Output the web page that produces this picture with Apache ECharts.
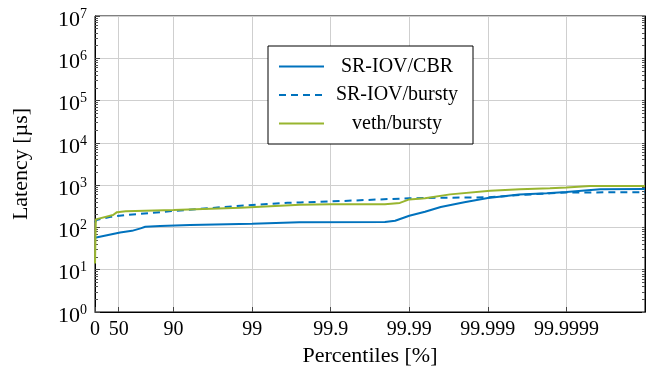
<!DOCTYPE html>
<html>
<head>
<meta charset="utf-8">
<script src="https://cdn.jsdelivr.net/npm/echarts@6/dist/echarts.min.js"></script>
<style>
    html, body { margin: 0; padding: 0; background: #fff; }
    #chart { width: 660px; height: 378px; }
</style>
</head>
<body>
<div id="chart"></div>
<script>
;(function () {
    'use strict';

    // x values are in "nines": -log10(1 - p/100)
    var xTickPercentiles = [0, 50, 90, 99, 99.9, 99.99, 99.999, 99.9999];
    var xTickLabels = ['0', '50', '90', '99', '99.9', '99.99', '99.999', '99.9999'];

    // SR-IOV/CBR
    var cbrNines   = [0, 0.32, 0.47, 0.58, 0.64, 0.83, 1.21, 2.0, 2.6, 3.69, 3.82, 4.0, 4.2, 4.4, 4.7, 5.0, 5.4, 5.75, 6.0, 6.43, 7.0];
    var cbrLatency = [57, 76, 83, 95, 104, 108, 114, 122, 132, 134, 144, 189, 234, 305, 395, 495, 600, 640, 690, 800, 815];

    // SR-IOV/bursty
    var sriovBurstyNines   = [0, 0.02, 0.2, 0.39, 0.7, 1.0, 1.85, 2.45, 2.61, 3.12, 3.63, 4.0, 4.5, 5.0, 5.45, 5.8, 6.0, 6.5, 7.0];
    var sriovBurstyLatency = [130, 150, 178, 196, 219, 245, 326, 383, 390, 420, 460, 490, 505, 515, 590, 640, 670, 675, 680];

    // veth/bursty
    var vethNines   = [0, 0.01, 0.23, 0.28, 0.39, 1.0, 1.85, 2.61, 3.0, 3.69, 3.88, 4.0, 4.2, 4.52, 5.03, 5.41, 5.79, 6.0, 6.3, 7.0];
    var vethLatency = [14, 155, 196, 230, 240, 257, 293, 345, 352, 355, 380, 460, 488, 605, 740, 800, 840, 880, 955, 960];

    var serif = '"Liberation Serif", "DejaVu Serif", serif';
    var blue = '#0072bd';
    var green = '#98b52f';

    function toNines(p) {
        return -Math.log10(1 - p / 100);
    }
    var xTickValues = xTickPercentiles.map(toNines);

    function pairs(xs, ys) {
        var out = [];
        for (var i = 0; i < xs.length; i++) {
            out.push([xs[i], ys[i]]);
        }
        return out;
    }

    // 次刻度 2..9 x 10^n
    var minorY = [];
    for (var e = 0; e < 7; e++) {
        for (var m = 2; m <= 9; m++) {
            minorY.push(m * Math.pow(10, e));
        }
    }
    var majorY = [1, 10, 100, 1000, 10000, 100000, 1000000, 10000000];

    var option = {
        backgroundColor: '#fff',
        animation: false,
        grid: {
            left: 95,
            right: 15,
            top: 16,
            bottom: 66,
            show: true,
            borderColor: '#000',
            borderWidth: 1
        },
        legend: {
            orient: 'vertical',
            left: 268,
            top: 46,
            padding: [10.5, 8, 10.5, 10],
            borderColor: '#000',
            borderWidth: 1,
            backgroundColor: '#fff',
            itemWidth: 45,
            itemHeight: 20,
            itemGap: 8.5,
            itemStyle: { opacity: 0 },
            formatter: function (name) {
                return '{c|' + name + '}';
            },
            textStyle: {
                color: '#000',
                fontFamily: serif,
                fontSize: 20,
                rich: {
                    c: { width: 136, align: 'center', fontFamily: serif, fontSize: 20, lineHeight: 20, color: '#000' }
                }
            },
            data: ['SR-IOV/CBR', 'SR-IOV/bursty', 'veth/bursty']
        },
        xAxis: {
            type: 'value',
            min: 0,
            max: 7,
            name: 'Percentiles [%]',
            nameLocation: 'middle',
            nameGap: 33,
            nameTextStyle: { fontFamily: serif, fontSize: 22, color: '#000' },
            axisLine: { show: true, lineStyle: { color: '#000', width: 1 } },
            axisTick: {
                show: true,
                inside: true,
                length: 5,
                customValues: xTickValues,
                lineStyle: { color: '#444' }
            },
            axisLabel: {
                customValues: xTickValues,
                margin: 8,
                color: '#000',
                fontFamily: serif,
                fontSize: 20,
                formatter: function (value) {
                    for (var i = 0; i < xTickValues.length; i++) {
                        if (Math.abs(xTickValues[i] - value) < 1e-6) return xTickLabels[i];
                    }
                    return '';
                }
            },
            splitLine: { show: true, lineStyle: { color: '#cfcfcf', width: 1 } }
        },
        yAxis: [
            {
                type: 'log',
                logBase: 10,
                min: 1,
                max: 10000000,
                name: 'Latency [µs]',
                nameLocation: 'middle',
                nameRotate: 90,
                nameGap: 63,
                nameTextStyle: { fontFamily: serif, fontSize: 22, color: '#000' },
                axisLine: { show: true, lineStyle: { color: '#000', width: 1 } },
                axisTick: {
                    show: true,
                    inside: true,
                    length: 5,
                    customValues: majorY,
                    lineStyle: { color: '#444' }
                },
                axisLabel: {
                    customValues: majorY,
                    margin: 8,
                    color: '#000',
                    formatter: function (value) {
                        var exp = Math.round(Math.log10(value));
                        return '{b|10}{s|' + exp + '}';
                    },
                    rich: {
                        b: { fontFamily: serif, fontSize: 22, lineHeight: 30, verticalAlign: 'bottom', color: '#000' },
                        s: { fontFamily: serif, fontSize: 14, padding: [6, 0, 0, 0], verticalAlign: 'top', color: '#000' }
                    }
                },
                splitLine: { show: true, lineStyle: { color: '#cfcfcf', width: 1 } }
            },
            {
                // 左侧次刻度
                type: 'log',
                logBase: 10,
                min: 1,
                max: 10000000,
                position: 'left',
                axisLine: { show: false },
                axisLabel: { show: false },
                splitLine: { show: false },
                axisTick: {
                    show: true,
                    inside: true,
                    length: 3,
                    customValues: minorY,
                    lineStyle: { color: '#555' }
                }
            },
            {
                // 右侧刻度
                type: 'log',
                logBase: 10,
                min: 1,
                max: 10000000,
                position: 'right',
                axisLine: { show: true, lineStyle: { color: '#000', width: 1 } },
                axisLabel: { show: false },
                splitLine: { show: false },
                axisTick: {
                    show: true,
                    inside: true,
                    length: 3,
                    customValues: minorY.concat(majorY),
                    lineStyle: { color: '#555' }
                }
            }
        ],
        series: [
            {
                name: 'SR-IOV/CBR',
                type: 'line',
                yAxisIndex: 0,
                symbol: 'none',
                lineStyle: { color: blue, width: 2 },
                itemStyle: { color: blue },
                data: pairs(cbrNines, cbrLatency)
            },
            {
                name: 'SR-IOV/bursty',
                type: 'line',
                yAxisIndex: 0,
                symbol: 'none',
                lineStyle: { color: blue, width: 2, type: [7, 5] },
                itemStyle: { color: blue },
                data: pairs(sriovBurstyNines, sriovBurstyLatency)
            },
            {
                name: 'veth/bursty',
                type: 'line',
                yAxisIndex: 0,
                symbol: 'none',
                lineStyle: { color: green, width: 2 },
                itemStyle: { color: green },
                data: pairs(vethNines, vethLatency)
            }
        ]
    };

    var chart = echarts.init(document.getElementById('chart'));
    chart.setOption(option);
})();
</script>
</body>
</html>
